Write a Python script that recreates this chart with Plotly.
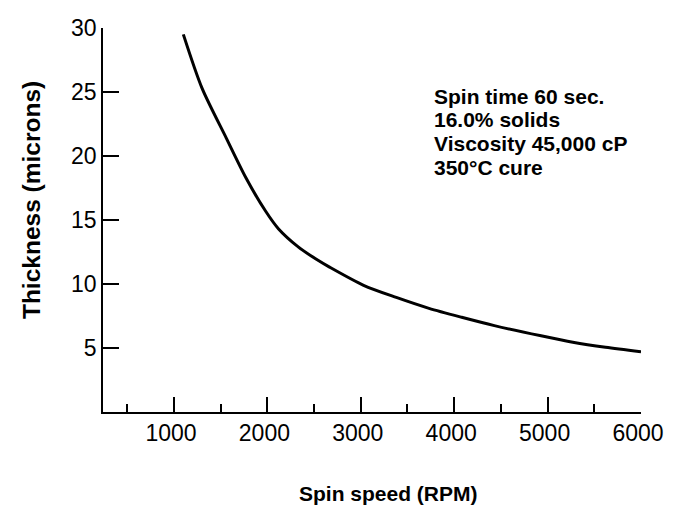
import plotly.graph_objects as go

# Data
spin_speed = [1100, 1300, 1560, 1770, 1980, 2120, 2330, 2520, 2670, 3030,
              3380, 3730, 4080, 4430, 4930, 5270, 5620, 6000]
thickness = [29.5, 25.3, 21.4, 18.3, 15.7, 14.3, 12.9, 11.95, 11.3, 9.9,
             8.95, 8.1, 7.4, 6.75, 5.95, 5.45, 5.05, 4.7]

x_major_ticks = [1000, 2000, 3000, 4000, 5000, 6000]
x_minor_ticks = [500, 1500, 2500, 3500, 4500, 5500]
y_ticks = [5, 10, 15, 20, 25, 30]
notes = ["Spin time 60 sec.", "16.0% solids", "Viscosity 45,000 cP", "350°C cure"]

W, H = 676, 514
L, R, T, B = 103, 27, 28, 102
pw, ph = W - L - R, H - T - B


def px_to_paper(px, py):
    return (px - L) / pw, (H - B - py) / ph


fig = go.Figure()
fig.add_trace(go.Scatter(
    x=spin_speed, y=thickness, mode="lines",
    line=dict(color="black", width=3, shape="spline", smoothing=0.8),
    showlegend=False, hoverinfo="skip",
))

font_family = "Liberation Sans, Arial, sans-serif"

fig.update_layout(
    width=W, height=H,
    margin=dict(l=L, r=R, t=T, b=B, pad=0),
    paper_bgcolor="white", plot_bgcolor="white",
    font=dict(family=font_family, color="black", size=20),
    xaxis=dict(
        range=[240, 6000], showgrid=False, zeroline=False,
        showline=True, linecolor="black", linewidth=1.5,
        tickmode="array", tickvals=x_major_ticks,
        ticktext=[str(v) for v in x_major_ticks],
        ticks="inside", ticklen=15, tickwidth=1.5, tickcolor="black",
        ticklabelstandoff=0, ticklabelshift=-3,
        tickfont=dict(size=23, color="black"),
        minor=dict(tickmode="array", tickvals=x_minor_ticks, ticks="inside",
                   ticklen=8, tickwidth=1.5, tickcolor="black", showgrid=False),
    ),
    yaxis=dict(
        range=[0, 30], showgrid=False, zeroline=False,
        showline=True, linecolor="black", linewidth=1.5,
        tickmode="array", tickvals=y_ticks,
        ticktext=[str(v) for v in y_ticks],
        ticks="inside", ticklen=16, tickwidth=1.5, tickcolor="black",
        ticklabelstandoff=0,
        tickfont=dict(size=23, color="black"),
    ),
)

annotations = []
# axis titles
xt, yt = px_to_paper(393, 493)
annotations.append(dict(text="<b>Spin speed (RPM)</b>", x=xt, y=yt, xref="paper", yref="paper",
                        showarrow=False, xanchor="center", yanchor="middle",
                        font=dict(size=21, color="black")))
xt, yt = px_to_paper(30, 200)
annotations.append(dict(text="<b>Thickness (microns)</b>", x=xt, y=yt, xref="paper", yref="paper",
                        showarrow=False, xanchor="center", yanchor="middle", textangle=-90,
                        font=dict(size=24.5, color="black")))
# notes block
for i, line in enumerate(notes):
    xn, yn = px_to_paper(437, 96 + i * 23.7)
    annotations.append(dict(text=f"<b>{line}</b>", x=xn, y=yn, xref="paper", yref="paper",
                            showarrow=False, xanchor="left", yanchor="middle",
                            font=dict(size=21, color="black")))
fig.update_layout(annotations=annotations)

fig.write_html(
    "out.html",
    config={"displayModeBar": False},
    post_script="document.body.style.margin='0';document.body.style.overflow='hidden';",
)
